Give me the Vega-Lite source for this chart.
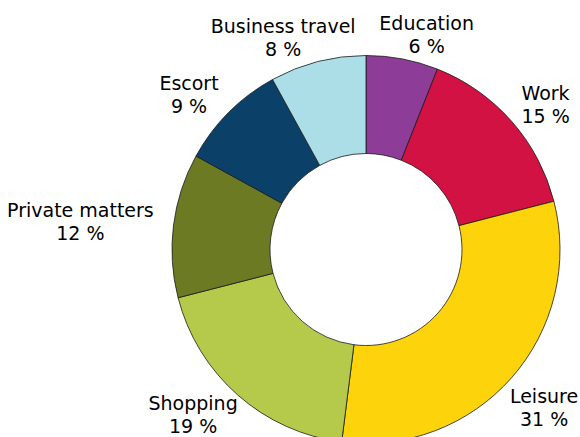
{
  "$schema": "https://vega.github.io/schema/vega-lite/v6.json",
  "width": 428,
  "height": 375,
  "autosize": "none",
  "padding": {"left": 152, "top": 62, "right": 0, "bottom": 0},
  "background": "white",
  "view": {"stroke": null},
  "data": {
    "values": [
      {"category": "Education", "value": 6, "rank": 1},
      {"category": "Work", "value": 15, "rank": 2},
      {"category": "Leisure", "value": 31, "rank": 3},
      {"category": "Shopping", "value": 19, "rank": 4},
      {"category": "Private matters", "value": 12, "rank": 5},
      {"category": "Escort", "value": 9, "rank": 6},
      {"category": "Business travel", "value": 8, "rank": 7}
    ]
  },
  "transform": [
    {"calculate": "[datum.category, datum.value + ' %']", "as": "label"}
  ],
  "encoding": {
    "theta": {"field": "value", "type": "quantitative", "stack": true},
    "order": {"field": "rank", "type": "quantitative"}
  },
  "layer": [
    {
      "mark": {"type": "arc", "outerRadius": 194, "innerRadius": 96, "stroke": "#1a1a1a", "strokeWidth": 0.8},
      "encoding": {
        "color": {
          "field": "category",
          "type": "nominal",
          "legend": null,
          "scale": {
            "domain": ["Education", "Work", "Leisure", "Shopping", "Private matters", "Escort", "Business travel"],
            "range": ["#8D3C97", "#D11242", "#FDD40B", "#B5CA4A", "#6C7A23", "#0B4068", "#ABDEE6"]
          }
        }
      }
    },
    {
      "mark": {
        "type": "text",
        "radius": 200,
        "font": "DejaVu Sans",
        "fontSize": 19,
        "lineHeight": 23,
        "color": "black",
        "align": "center",
        "baseline": "middle",
        "dx": {"expr": "clamp((sin(PI*(datum.value_start+datum.value_end)/100) > 0 ? 15 : -15) + sin(PI*(datum.value_start+datum.value_end)/100)*max(length(datum.category),4)*4.85, -152 - width/2 - 200*sin(PI*(datum.value_start+datum.value_end)/100) + max(length(datum.category),4)*4.85 + 2, width/2 - 200*sin(PI*(datum.value_start+datum.value_end)/100) - max(length(datum.category),4)*4.85 - 2)"},
        "dy": {"expr": "min(height/2 - cos(PI*(datum.value_start+datum.value_end)/100)*(200 + (cos(PI*(datum.value_start+datum.value_end)/100) < 0 ? 40 : 18)), height - 22) - (height/2 - 200*cos(PI*(datum.value_start+datum.value_end)/100)) - 11.5"}
      },
      "encoding": {
        "text": {"field": "label"},
        "detail": {"field": "category", "type": "nominal"}
      }
    }
  ]
}
